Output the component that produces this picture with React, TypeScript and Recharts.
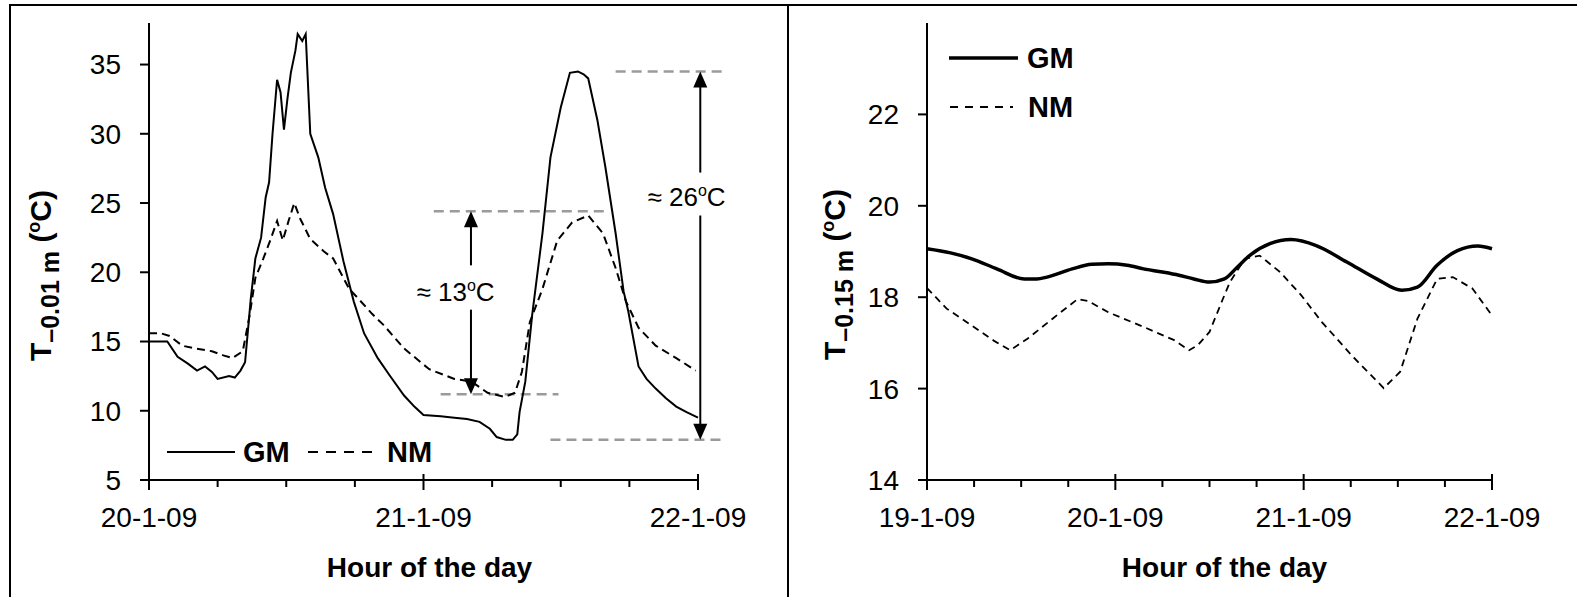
import React from "react";
import { LineChart, Line, XAxis, YAxis, ReferenceLine, ReferenceDot, Legend } from "recharts";

const FONT = '"Liberation Sans", Arial, Helvetica, sans-serif';

// Panel A: surface (0.01 m), 20-1-09 .. 22-1-09, hours since start
const leftGmHours = [0, 1.6, 2.5, 3.4, 4.2, 4.9, 5.5, 6.0, 7.0, 7.5, 8.0, 8.4, 8.9, 9.3, 9.8, 10.2, 10.5, 10.8, 11.2, 11.5, 11.8, 12.1, 12.4, 12.8, 13.0, 13.4, 13.7, 14.1, 14.8, 15.4, 16.1, 17.0, 17.9, 18.8, 20.0, 21.0, 22.3, 23.2, 24.0, 25.5, 26.7, 27.8, 28.9, 29.8, 30.4, 31.2, 31.8, 32.2, 32.4, 32.9, 33.5, 34.4, 35.1, 36.0, 36.8, 37.5, 38.0, 38.4, 39.2, 39.9, 40.8, 41.5, 41.9, 42.8, 43.5, 44.3, 45.2, 46.1, 47.0, 48.0];
const leftGmTemp = [15.0, 15.0, 13.9, 13.4, 12.9, 13.2, 12.8, 12.3, 12.5, 12.4, 12.9, 13.5, 18.1, 21.0, 22.5, 25.4, 26.5, 30.0, 33.9, 33.0, 30.3, 32.5, 34.4, 36.0, 37.2, 36.7, 37.2, 30.0, 28.3, 26.1, 24.2, 20.8, 17.9, 15.6, 13.8, 12.6, 11.1, 10.3, 9.7, 9.6, 9.5, 9.4, 9.2, 8.7, 8.1, 7.9, 7.9, 8.3, 9.9, 12.1, 16.9, 22.8, 28.3, 31.9, 34.4, 34.5, 34.3, 34.0, 31.0, 27.6, 22.8, 18.6, 17.2, 13.2, 12.3, 11.6, 10.9, 10.3, 9.9, 9.5];
const leftNmHours = [0, 1.0, 1.8, 2.9, 4.0, 5.5, 6.5, 7.3, 8.2, 8.8, 9.3, 10.0, 10.6, 11.2, 11.7, 12.2, 12.7, 13.2, 14.1, 15.3, 16.1, 17.5, 18.3, 19.5, 20.5, 22.3, 24.5, 26.7, 28.2, 29.6, 31.1, 32.0, 32.6, 33.3, 34.4, 35.7, 37.0, 38.4, 39.7, 40.8, 41.7, 42.8, 44.3, 46.1, 47.8];
const leftNmTemp = [15.6, 15.6, 15.4, 14.7, 14.5, 14.3, 14.0, 13.8, 14.3, 16.9, 19.6, 21.0, 22.3, 23.7, 22.3, 23.7, 25.0, 23.9, 22.4, 21.5, 21.0, 18.8, 18.1, 17.0, 16.2, 14.5, 13.0, 12.3, 12.1, 11.3, 11.0, 11.3, 12.8, 16.4, 18.8, 22.3, 23.6, 24.1, 22.8, 20.3, 17.9, 16.0, 14.7, 13.8, 12.9];
const leftHourTicks = [0, 6, 12, 18, 24, 30, 36, 42, 48];
const leftDayLabels = ["20-1-09", "21-1-09", "22-1-09"];
const leftTempTicks = [5, 10, 15, 20, 25, 30, 35];

// Panel B: 0.15 m depth, 19-1-09 .. 22-1-09
const rightGmHours = [0, 3, 5.7, 8.9, 12.4, 14, 15.3, 18.5, 21, 23.1, 25.5, 27.6, 30, 32.1, 34, 36.0, 37.9, 39.5, 41.1, 43.7, 46.4, 49.6, 53.5, 57.3, 60.5, 62.5, 65.0, 67.6, 70.2, 72];
const rightGmTemp = [19.06, 18.97, 18.84, 18.62, 18.40, 18.40, 18.44, 18.62, 18.72, 18.73, 18.70, 18.62, 18.55, 18.48, 18.40, 18.33, 18.40, 18.65, 18.91, 19.17, 19.26, 19.13, 18.77, 18.40, 18.15, 18.22, 18.70, 19.02, 19.12, 19.06];
const rightNmHours = [0, 2.5, 5.7, 8.5, 10.6, 12.8, 16.0, 19.2, 20.5, 23.1, 27.6, 31.5, 33.4, 34.5, 36.0, 37.7, 38.6, 40.5, 42.4, 45.0, 47.7, 50.3, 54.1, 58.2, 60.3, 62.5, 65.0, 67.0, 69.5, 72];
const rightNmTemp = [18.2, 17.75, 17.38, 17.05, 16.84, 17.09, 17.53, 17.96, 17.92, 17.67, 17.35, 17.06, 16.84, 16.95, 17.24, 17.96, 18.33, 18.84, 18.91, 18.55, 18.04, 17.46, 16.73, 16.01, 16.37, 17.53, 18.40, 18.44, 18.19, 17.60];
const rightHourTicks = [0, 6, 12, 18, 24, 30, 36, 42, 48, 54, 60, 66, 72];
const rightDayLabels = ["19-1-09", "20-1-09", "21-1-09", "22-1-09"];
const rightTempTicks = [14, 16, 18, 20, 22];

// amplitude guides on panel A (hour range, temperature level)
const guideLevels = [
  { t: 34.5, from: 40.8, to: 50.3 },
  { t: 24.4, from: 24.9, to: 40.0 },
  { t: 11.2, from: 25.5, to: 35.8 },
  { t: 7.9, from: 35.1, to: 50.0 },
];

const zip = (hours: number[], temps: number[]) => hours.map((h, i) => ({ h, t: temps[i] }));

function HourTick(props: any) {
  const { x, y, payload, labels } = props;
  const v = payload.value;
  const major = v % 24 === 0;
  return (
    <g>
      <line x1={x} x2={x} y1={major ? y - 6 : y} y2={major ? y + 10 : y + 7} stroke="#000" strokeWidth={2} />
      {major && (
        <text x={x} y={y + 47} textAnchor="middle" fontSize={28} fontFamily={FONT} fill="#000">
          {labels[v / 24]}
        </text>
      )}
    </g>
  );
}

function TempTitle({ bx, cy, depth }: { bx: number; cy: number; depth: string }) {
  return (
    <text transform={`translate(${bx},${cy}) rotate(-90)`} textAnchor="middle" fontFamily={FONT} fontWeight="bold" fontSize={30} fill="#000">
      T<tspan fontSize={25} dy={8}>{`–${depth} m`}</tspan>
      <tspan dy={-8}> (</tspan>
      <tspan fontSize={18} dy={-11}>o</tspan>
      <tspan dy={11}>C)</tspan>
    </text>
  );
}

function Arrow(props: any) {
  const { x1, y1, x2, y2 } = props;
  const dir = y2 > y1 ? 1 : -1;
  return (
    <g>
      <line x1={x1} y1={y1} x2={x2} y2={y2 - dir * 12} stroke="#000" strokeWidth={2} />
      <polygon points={`${x2},${y2} ${x2 - 7},${y2 - dir * 16} ${x2 + 7},${y2 - dir * 16}`} fill="#000" />
    </g>
  );
}

function Approx({ cx, cy, value }: any) {
  return (
    <text x={cx} y={cy + 9} textAnchor="middle" fontFamily={FONT} fontSize={26} fill="#000">
      {`≈ ${value}`}
      <tspan fontSize={16} dy={-10}>o</tspan>
      <tspan dy={10}>C</tspan>
    </text>
  );
}

const axisStyle = { stroke: "#000", strokeWidth: 2 };

function SurfacePanel() {
  return (
    <LineChart width={788} height={597} margin={{ top: 23, right: 90, bottom: 87, left: 89 }}>
      <XAxis
        type="number"
        dataKey="h"
        domain={[0, 48]}
        ticks={leftHourTicks}
        interval={0}
        height={30}
        tickSize={0}
        tickMargin={0}
        tickLine={false}
        axisLine={axisStyle}
        tick={<HourTick labels={leftDayLabels} />}
        label={(p: any) => (
          <text x={p.viewBox.x + p.viewBox.width / 2 + 6} y={p.viewBox.y + 97} textAnchor="middle" fontFamily={FONT} fontWeight="bold" fontSize={28} fill="#000">
            Hour of the day
          </text>
        )}
      />
      <YAxis
        type="number"
        domain={[5, 38]}
        ticks={leftTempTicks}
        interval={0}
        width={60}
        tickSize={9}
        tickMargin={19}
        axisLine={axisStyle}
        tickLine={axisStyle}
        tick={{ fontSize: 28, fill: "#000", fontFamily: FONT }}
        label={(p: any) => <TempTitle bx={p.viewBox.x - 38} cy={p.viewBox.y + p.viewBox.height / 2 + 24} depth="0.01" />}
      />
      {guideLevels.map((g, i) => (
        <ReferenceLine
          key={i}
          segment={[{ x: g.from, y: g.t }, { x: g.to, y: g.t }]}
          stroke="#9a9a9a"
          strokeWidth={2.5}
          strokeDasharray="10 6"
          ifOverflow="visible"
        />
      ))}
      <ReferenceLine segment={[{ x: 28.15, y: 20.5 }, { x: 28.15, y: 24.4 }]} ifOverflow="visible" shape={Arrow} />
      <ReferenceLine segment={[{ x: 28.15, y: 17.3 }, { x: 28.15, y: 11.2 }]} ifOverflow="visible" shape={Arrow} />
      <ReferenceLine segment={[{ x: 48.2, y: 27.2 }, { x: 48.2, y: 34.5 }]} ifOverflow="visible" shape={Arrow} />
      <ReferenceLine segment={[{ x: 48.2, y: 24.1 }, { x: 48.2, y: 7.9 }]} ifOverflow="visible" shape={Arrow} />
      <ReferenceDot x={26.8} y={18.6} ifOverflow="visible" shape={(p: any) => <Approx {...p} value="13" />} />
      <ReferenceDot x={47.0} y={25.4} ifOverflow="visible" shape={(p: any) => <Approx {...p} value="26" />} />
      <Line data={zip(leftNmHours, leftNmTemp)} dataKey="t" name="NM" type="linear" dot={false} stroke="#000" strokeWidth={2} strokeDasharray="8 5" isAnimationActive={false} />
      <Line data={zip(leftGmHours, leftGmTemp)} dataKey="t" name="GM" type="linear" dot={false} stroke="#000" strokeWidth={2} isAnimationActive={false} />
      <Legend
        layout="vertical"
        align="center"
        verticalAlign="middle"
        wrapperStyle={{ left: 160, top: 430, width: 290, height: 45 }}
        content={() => (
          <svg width={290} height={45} style={{ display: "block" }}>
            <line x1={7} x2={75} y1={22} y2={22} stroke="#000" strokeWidth={2} />
            <text x={83} y={32} fontFamily={FONT} fontWeight="bold" fontSize={29}>GM</text>
            <line x1={148} x2={212} y1={22} y2={22} stroke="#000" strokeWidth={2} strokeDasharray="10 8" />
            <text x={227} y={32} fontFamily={FONT} fontWeight="bold" fontSize={29}>NM</text>
          </svg>
        )}
      />
    </LineChart>
  );
}

function DeepPanel() {
  return (
    <LineChart width={789} height={597} margin={{ top: 23, right: 85, bottom: 87, left: 79 }}>
      <XAxis
        type="number"
        dataKey="h"
        domain={[0, 72]}
        ticks={rightHourTicks}
        interval={0}
        height={30}
        tickSize={0}
        tickMargin={0}
        tickLine={false}
        axisLine={axisStyle}
        tick={<HourTick labels={rightDayLabels} />}
        label={(p: any) => (
          <text x={p.viewBox.x + p.viewBox.width / 2 + 15} y={p.viewBox.y + 97} textAnchor="middle" fontFamily={FONT} fontWeight="bold" fontSize={28} fill="#000">
            Hour of the day
          </text>
        )}
      />
      <YAxis
        type="number"
        domain={[14, 24]}
        ticks={rightTempTicks}
        interval={0}
        width={60}
        tickSize={9}
        tickMargin={19}
        axisLine={axisStyle}
        tickLine={axisStyle}
        tick={{ fontSize: 28, fill: "#000", fontFamily: FONT }}
        label={(p: any) => <TempTitle bx={p.viewBox.x - 22} cy={p.viewBox.y + p.viewBox.height / 2 + 23} depth="0.15" />}
      />
      <Line data={zip(rightNmHours, rightNmTemp)} dataKey="t" name="NM" type="linear" dot={false} stroke="#000" strokeWidth={1.8} strokeDasharray="7 5" isAnimationActive={false} />
      <Line data={zip(rightGmHours, rightGmTemp)} dataKey="t" name="GM" type="monotone" dot={false} stroke="#000" strokeWidth={3.5} isAnimationActive={false} />
      <Legend
        layout="vertical"
        align="center"
        verticalAlign="middle"
        wrapperStyle={{ left: 150, top: 30, width: 150, height: 100 }}
        content={() => (
          <svg width={150} height={100} style={{ display: "block" }}>
            <line x1={11} x2={80} y1={28} y2={28} stroke="#000" strokeWidth={3.5} />
            <text x={89} y={38} fontFamily={FONT} fontWeight="bold" fontSize={29}>GM</text>
            <line x1={12} x2={75} y1={77} y2={77} stroke="#000" strokeWidth={2} strokeDasharray="8 7" />
            <text x={90} y={87} fontFamily={FONT} fontWeight="bold" fontSize={29}>NM</text>
          </svg>
        )}
      />
    </LineChart>
  );
}

export default function App() {
  return (
    <div style={{ position: "absolute", left: 0, top: 0, width: 1577, height: 597, background: "#fff", overflow: "hidden", fontFamily: FONT }}>
      <div style={{ position: "absolute", left: 0, top: 0 }}>
        <SurfacePanel />
      </div>
      <div style={{ position: "absolute", left: 788, top: 0 }}>
        <DeepPanel />
      </div>
      <div style={{ position: "absolute", left: 10, top: 4, width: 1567, height: 2, background: "#000" }} />
      <div style={{ position: "absolute", left: 9, top: 4, width: 2, height: 593, background: "#000" }} />
      <div style={{ position: "absolute", left: 787, top: 4, width: 2, height: 593, background: "#000" }} />
    </div>
  );
}
